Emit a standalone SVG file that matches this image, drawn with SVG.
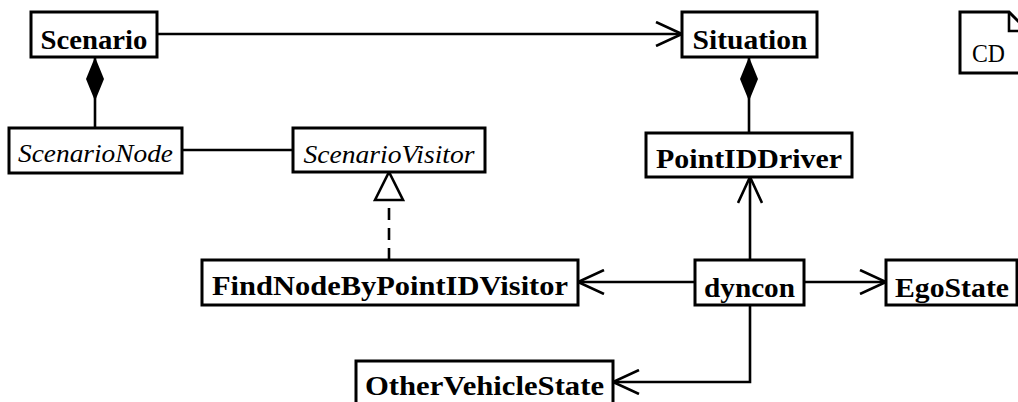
<svg xmlns="http://www.w3.org/2000/svg" width="1018" height="402" viewBox="0 0 1018 402">
<style>
.box{fill:#fff;stroke:#000;stroke-width:3}
.b{font-family:"Liberation Serif",serif;font-weight:bold;font-size:27px;text-anchor:middle;fill:#000}
.c{fill:none;stroke:#000;stroke-width:2.6}
</style>
<defs>
<marker id="open" markerUnits="userSpaceOnUse" viewBox="0 0 30 26" refX="28" refY="13" markerWidth="30" markerHeight="26" orient="auto">
<path d="M2,1 L28,13 L2,25" fill="none" stroke="#000" stroke-width="2.6"/>
</marker>
<marker id="diamond" markerUnits="userSpaceOnUse" viewBox="0 0 44 20" refX="44" refY="10" markerWidth="44" markerHeight="20" orient="auto">
<path d="M0,10 L22,1 L44,10 L22,19 Z" fill="#000"/>
</marker>
<marker id="tri" markerUnits="userSpaceOnUse" viewBox="0 0 32 32" refX="30" refY="16" markerWidth="32" markerHeight="32" orient="auto">
<path d="M2,2 L30,16 L2,30 Z" fill="#fff" stroke="#000" stroke-width="2.6"/>
</marker>
</defs>
<g id="connectors">
<line class="c" x1="157" y1="34" x2="682" y2="34" marker-end="url(#open)"/>
<line class="c" x1="95" y1="128" x2="95" y2="57" marker-end="url(#diamond)"/>
<line class="c" x1="182" y1="150" x2="292" y2="150"/>
<line class="c" x1="749" y1="133" x2="749" y2="57" marker-end="url(#diamond)"/>
<line class="c" x1="389" y1="260" x2="389" y2="172" stroke-dasharray="12 8" stroke-width="3" marker-end="url(#tri)"/>
<line class="c" x1="695" y1="282" x2="578" y2="282" marker-end="url(#open)"/>
<line class="c" x1="804" y1="282" x2="886" y2="282" marker-end="url(#open)"/>
<line class="c" x1="750" y1="260" x2="750" y2="177" marker-end="url(#open)"/>
<polyline class="c" points="750,305 750,382 613,382" marker-end="url(#open)"/>
</g>
<g id="Scenario"><rect class="box" x="31" y="12" width="126" height="45"/><text class="b" x="94" y="49" textLength="107" lengthAdjust="spacingAndGlyphs">Scenario</text></g>
<g id="Situation"><rect class="box" x="682" y="12" width="135" height="45"/><text class="b" x="750" y="49" textLength="115" lengthAdjust="spacingAndGlyphs">Situation</text></g>
<g id="ScenarioNode"><rect class="box" x="9" y="128" width="173" height="45"/><text x="95.5" y="162" font-family="Liberation Serif" font-style="italic" font-size="25" text-anchor="middle" textLength="155" lengthAdjust="spacingAndGlyphs">ScenarioNode</text></g>
<g id="ScenarioVisitor"><rect class="box" x="293" y="128" width="192" height="44"/><text x="389" y="163" font-family="Liberation Serif" font-style="italic" font-size="25" text-anchor="middle" textLength="171" lengthAdjust="spacingAndGlyphs">ScenarioVisitor</text></g>
<g id="PointIDDriver"><rect class="box" x="646" y="133" width="206" height="44"/><text class="b" x="749" y="168" textLength="186" lengthAdjust="spacingAndGlyphs">PointIDDriver</text></g>
<g id="FindNodeByPointIDVisitor"><rect class="box" x="202" y="260" width="376" height="45"/><text class="b" x="390" y="295" textLength="356" lengthAdjust="spacingAndGlyphs">FindNodeByPointIDVisitor</text></g>
<g id="dyncon"><rect class="box" x="695" y="260" width="109" height="45"/><text class="b" x="749.5" y="297" textLength="91" lengthAdjust="spacingAndGlyphs">dyncon</text></g>
<g id="EgoState"><rect class="box" x="886" y="260" width="131" height="45"/><text class="b" x="952" y="297" textLength="114" lengthAdjust="spacingAndGlyphs">EgoState</text></g>
<g id="OtherVehicleState"><rect class="box" x="356" y="361" width="257" height="45"/><text class="b" x="484.5" y="395" textLength="239" lengthAdjust="spacingAndGlyphs">OtherVehicleState</text></g>
<g id="CD">
<path d="M960,12 H1009 L1028,31 V73 H960 Z" fill="#fff" stroke="#000" stroke-width="3"/>
<path d="M1009,12 V31 H1028" fill="none" stroke="#000" stroke-width="2.6"/>
<text x="972" y="62" font-family="Liberation Serif" font-size="25" textLength="33" lengthAdjust="spacingAndGlyphs">CD</text>
</g>
</svg>
